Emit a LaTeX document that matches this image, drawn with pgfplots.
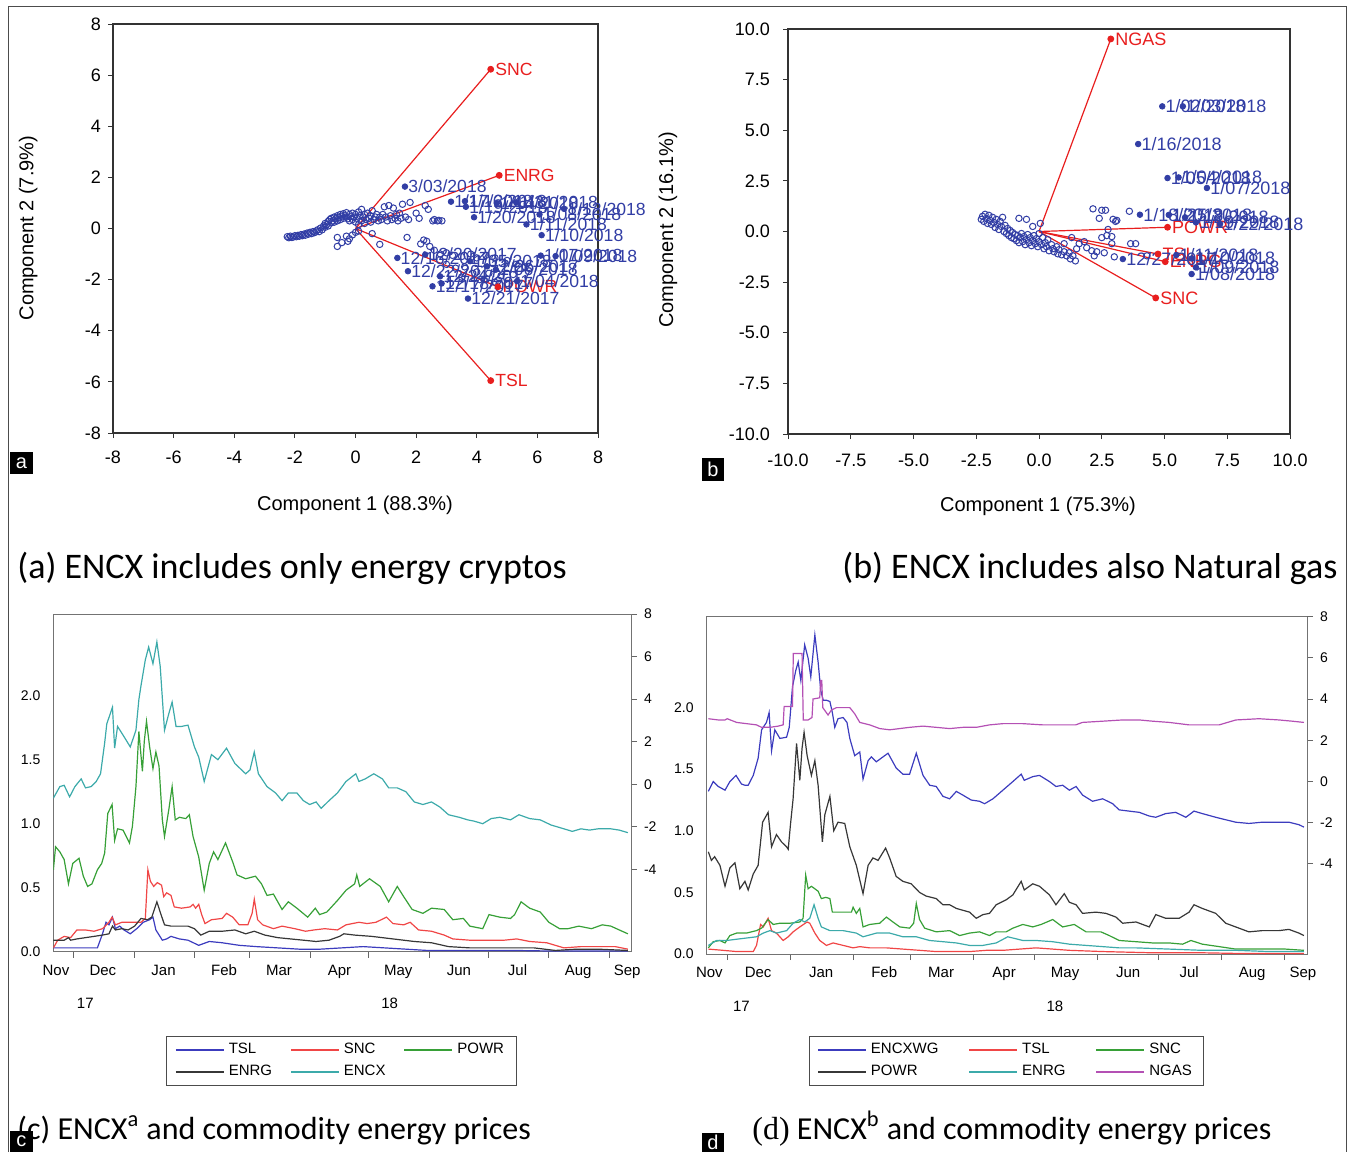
\documentclass[border=0pt]{standalone}
\usepackage{pgfplots}
\pgfplotsset{compat=1.18}
\usepackage{fontspec}
\setmainfont{Liberation Sans}
\newfontfamily\capfont{Carlito}
\newfontfamily\capserif{Liberation Serif}

\definecolor{ptblue}{RGB}{50,62,165}
\definecolor{ptred}{RGB}{232,30,30}
\definecolor{cblue}{RGB}{60,60,190}
\definecolor{cred}{RGB}{240,70,70}
\definecolor{cgreen}{RGB}{55,160,55}
\definecolor{cblack}{RGB}{55,55,55}
\definecolor{cteal}{RGB}{60,170,170}
\definecolor{cmag}{RGB}{180,80,180}

\pgfplotsset{
  biplot/.style={
    scale only axis, clip=false,
    axis line style={black!80, line width=0.6pt},
    tick pos=left, tick align=outside, major tick length=2.5pt,
    tick style={black!80, line width=0.5pt},
    ticklabel style={font=\fontsize{9}{10}\selectfont},
    xticklabel style={yshift=-3pt},
    /pgf/number format/assume math mode=true,
    label style={font=\fontsize{10}{12}\selectfont},
  },
  tsplot/.style={
    scale only axis, clip mode=individual,
    xmin=-10.3, xmax=285,
    axis line style={black!55, line width=0.5pt},
    xtick={0,31,62,90,121,151,182,212,243,274}, xticklabels={},
    xtick pos=bottom, ytick pos=left, tick align=outside,
    major tick length=3pt, tick style={black!60, line width=0.5pt},
    ytick style={draw=none},
    ytick={0,0.5,1,1.5,2},
    yticklabel style={/pgf/number format/fixed, /pgf/number format/fixed zerofill, /pgf/number format/precision=1},
    ticklabel style={font=\fontsize{7}{8}\selectfont},
    /pgf/number format/assume math mode=true,
    extra x ticks={-9,15,46,77,105,136,166,197,227,258,283},
    extra x tick labels={Nov,Dec,Jan,Feb,Mar,Apr,May,Jun,Jul,Aug,Sep},
    extra x tick style={major tick length=0pt, tick label style={font=\fontsize{7.5}{8}\selectfont, yshift=-3pt}},
    legend image code/.code={\draw[#1, line width=0.9pt] (0pt,0pt) -- (24pt,0pt);},
    legend cell align=left,
    every axis plot/.append style={line width=0.6pt},
  },
  rightax/.style={
    scale only axis, xmin=-10.3, xmax=285,
    axis x line=none, axis y line*=right,
    axis line style={black!55, line width=0.5pt},
    tick align=outside, major tick length=3pt, tick style={black!60, line width=0.5pt},
    ytick={-4,-2,0,2,4,6,8},
    ticklabel style={font=\fontsize{7}{8}\selectfont},
    /pgf/number format/assume math mode=true,
  },
}

\begin{document}
\begin{tikzpicture}
\path (0pt,0pt) rectangle (673.5pt,-576pt);
\draw[black!70, line width=0.5pt] (4.3pt,-576pt) -- (4.3pt,-3pt) -- (673pt,-3pt) -- (673pt,-576pt);

% ---------------- (a) biplot, energy cryptos ----------------
\begin{axis}[biplot,
  at={(56.5pt,-216.5pt)}, anchor=south west,
  width=242.5pt, height=204.5pt,
  xmin=-8, xmax=8, ymin=-8, ymax=8,
  xtick={-8,-6,...,8}, ytick={-8,-6,...,8},
  xlabel={Component 1 (88.3\%)}, ylabel={Component 2 (7.9\%)},
  xlabel style={at={(axis description cs:0.499,-0.176)}, anchor=center},
  ylabel style={at={(axis description cs:-0.175,0.501)}, anchor=center},
]
\addplot[only marks, mark=o, mark size=1.6pt, ptblue, mark options={line width=0.5pt}] table {
x y
-2.25 -0.32
-2.2 -0.36
-2.15 -0.30
-2.1 -0.35
-2.05 -0.33
-2.0 -0.28
-1.95 -0.32
-1.9 -0.27
-1.85 -0.30
-1.8 -0.24
-1.75 -0.28
-1.7 -0.22
-1.65 -0.26
-1.6 -0.18
-1.55 -0.22
-1.5 -0.15
-1.45 -0.20
-1.4 -0.12
-1.35 -0.16
-1.3 -0.10
-1.25 -0.05
-1.2 -0.12
-1.15 0.02
-1.1 -0.05
-1.05 0.10
-1.0 0.05
-1.0 0.20
-0.95 0.15
-0.9 0.28
-0.9 0.10
-0.85 0.35
-0.8 0.22
-0.8 0.40
-0.75 0.30
-0.7 0.45
-0.7 0.25
-0.65 0.38
-0.6 0.50
-0.6 0.30
-0.55 0.42
-0.5 0.55
-0.5 0.35
-0.45 0.48
-0.4 0.40
-0.4 0.58
-0.35 0.50
-0.3 0.45
-0.3 0.62
-0.25 0.38
-0.2 0.55
-0.2 0.30
-0.15 0.48
-0.1 0.60
-0.1 0.35
-0.05 0.45
0.0 0.55
0.0 0.25
0.05 0.40
0.1 0.65
0.1 0.15
0.15 0.50
0.2 0.30
0.2 0.75
0.25 0.45
0.3 0.55
0.3 0.20
0.35 0.35
0.4 0.60
0.45 0.40
0.5 0.25
0.5 0.50
0.55 0.70
0.6 0.35
0.65 0.45
0.7 0.55
0.75 0.30
0.8 0.45
0.85 0.35
0.9 0.55
0.95 0.85
1.0 0.45
1.05 0.30
1.1 0.90
1.15 0.50
1.2 0.35
1.25 0.80
1.3 0.40
1.35 0.55
1.4 0.30
1.45 0.60
1.5 0.40
1.55 0.95
1.65 0.45
1.75 0.35
1.8 1.02
2.0 0.60
2.1 0.40
2.3 0.90
2.4 0.75
2.55 0.30
2.6 0.35
2.7 0.30
2.75 0.32
2.85 0.30
-0.6 -0.35
-0.6 -0.70
-0.45 -0.55
-0.3 -0.30
-0.25 -0.50
-0.2 -0.40
-0.1 -0.25
0.0 -0.15
0.1 -0.10
0.55 -0.20
0.8 -0.62
1.7 -0.35
2.15 -0.60
2.25 -0.45
2.35 -0.50
2.45 -0.70
2.6 -0.85
2.8 -1.00
3.0 -0.95
3.2 -1.05
3.5 -1.10
3.8 -1.00
4.0 -1.15
4.3 -1.05
4.6 -1.15
5.0 -1.25
5.3 -1.40
5.6 -1.50
3.0 -1.40
3.3 -1.55
3.6 -1.50
4.0 -1.70
4.4 -1.75
4.8 -1.85
5.2 -1.80
3.5 -1.90
4.1 -2.00
4.6 -2.10
5.0 -2.15
};
\addplot[only marks, mark=*, mark size=1.4pt, ptblue,
  nodes near coords, point meta=explicit symbolic,
  nodes near coords style={anchor=west, inner sep=1.5pt, font=\fontsize{8.8}{9}\selectfont, text=ptblue}]
  table[x=x, y=y, meta=lab] {
x y lab
1.63 1.64 3/03/2018
3.15 1.05 1/17/2018
3.61 1.07 1/16/2018
3.64 0.85 1/19/2018
3.91 0.44 1/20/2018
4.66 0.99 1/14/2018
5.30 1.02 1/31/2018
5.64 0.16 1/11/2018
6.07 0.55 1/08/2018
6.14 -0.26 1/10/2018
6.88 0.77 1/12/2018
1.38 -1.15 12/16/2017
2.30 -1.02 12/20/2017
1.73 -1.67 12/22/2017
2.79 -1.87 12/24/2017
2.54 -2.26 12/17/2017
2.84 -2.15 12/18/2017
3.71 -2.74 12/21/2017
3.78 -1.28 1/05/2018
4.34 -1.48 12/26/2017
4.63 -1.61 1/06/2018
5.33 -2.06 1/04/2018
6.11 -1.06 1/07/2018
6.60 -1.08 1/09/2018
};
\addplot[ptred, line width=0.6pt, mark=*, mark size=1.4pt, mark indices={2}] coordinates {(0,0) (4.46,6.23)}
  node[pos=1, anchor=west, inner sep=2pt, text=ptred, font=\fontsize{8.8}{9}\selectfont] {SNC};
\addplot[ptred, line width=0.6pt, mark=*, mark size=1.4pt, mark indices={2}] coordinates {(0,0) (4.74,2.08)}
  node[pos=1, anchor=west, inner sep=2pt, text=ptred, font=\fontsize{8.8}{9}\selectfont] {ENRG};
\addplot[ptred, line width=0.6pt, mark=*, mark size=1.4pt, mark indices={2}] coordinates {(0,0) (4.70,-2.28)}
  node[pos=1, anchor=west, inner sep=2pt, text=ptred, font=\fontsize{8.8}{9}\selectfont] {POWR};
\addplot[ptred, line width=0.6pt, mark=*, mark size=1.4pt, mark indices={2}] coordinates {(0,0) (4.46,-5.95)}
  node[pos=1, anchor=west, inner sep=2pt, text=ptred, font=\fontsize{8.8}{9}\selectfont] {TSL};
\end{axis}

% ---------------- (b) biplot, with natural gas ----------------
\begin{axis}[biplot,
  at={(394pt,-217pt)}, anchor=south west,
  width=251pt, height=202.5pt,
  xmin=-10, xmax=10, ymin=-10, ymax=10,
  xtick={-10,-7.5,...,10}, ytick={-10,-7.5,...,10},
  ticklabel style={/pgf/number format/fixed, /pgf/number format/fixed zerofill, /pgf/number format/precision=1},
  xticklabel style={yshift=-1pt},
  yticklabel style={xshift=-3pt},
  xlabel={Component 1 (75.3\%)}, ylabel={Component 2 (16.1\%)},
  xlabel style={at={(axis description cs:0.498,-0.178)}, anchor=center},
  ylabel style={at={(axis description cs:-0.239,0.504)}, anchor=center},
]
\addplot[only marks, mark=o, mark size=1.6pt, ptblue, mark options={line width=0.5pt}] table {
x y
-2.3 0.60
-2.25 0.75
-2.2 0.50
-2.15 0.85
-2.1 0.65
-2.05 0.40
-2.0 0.80
-1.95 0.55
-1.9 0.35
-1.85 0.70
-1.8 0.45
-1.75 0.20
-1.7 0.60
-1.65 0.35
-1.6 0.10
-1.55 0.50
-1.5 0.25
-1.45 0.70
-1.4 0.00
-1.35 0.30
-1.3 -0.10
-1.25 0.15
-1.2 -0.20
-1.15 0.05
-1.1 -0.30
-1.05 -0.05
-1.0 -0.35
-0.95 -0.15
-0.9 -0.45
-0.85 -0.20
-0.8 -0.55
-0.8 0.65
-0.75 -0.30
-0.7 -0.10
-0.65 -0.50
-0.6 -0.25
-0.55 -0.65
-0.5 0.60
-0.5 -0.40
-0.45 -0.15
-0.4 -0.55
-0.35 -0.30
-0.3 -0.70
-0.25 0.25
-0.25 -0.45
-0.2 -0.20
-0.15 -0.60
-0.1 -0.35
-0.05 -0.75
0.0 -0.10
0.0 -0.50
0.05 0.40
0.1 -0.65
0.15 -0.30
0.2 -0.85
0.25 -0.55
0.3 -0.75
0.35 -0.40
0.4 -0.95
0.5 -0.65
0.55 -0.85
0.6 -1.00
0.7 -0.75
0.75 -1.10
0.8 -0.90
0.9 -1.15
1.0 -0.60
1.0 -1.00
1.1 -1.20
1.2 -1.05
1.25 -1.35
1.3 -0.30
1.35 -1.20
1.45 -1.45
1.5 -0.85
1.6 -0.60
1.8 -0.50
1.9 -0.80
2.1 -0.95
2.2 -1.20
2.3 -1.00
2.6 -1.05
2.7 -0.20
2.9 -0.60
3.0 -1.25
2.15 1.12
2.5 1.05
2.65 1.05
2.4 0.65
2.95 0.60
3.05 0.50
3.1 0.55
2.75 0.10
2.5 -0.30
2.9 -0.25
3.6 1.00
3.65 -0.60
3.85 -0.60
4.3 -1.20
};
\addplot[only marks, mark=*, mark size=1.4pt, ptblue,
  nodes near coords, point meta=explicit symbolic,
  nodes near coords style={anchor=west, inner sep=1.5pt, font=\fontsize{9}{10}\selectfont, text=ptblue}]
  table[x=x, y=y, meta=lab] {
x y lab
4.91 6.18 1/02/2018
5.73 6.18 1/03/2018
3.95 4.32 1/16/2018
5.12 2.64 1/05/2018
5.56 2.67 1/04/2018
6.69 2.15 1/07/2018
4.02 0.83 1/18/2018
5.17 0.82 1/25/2018
5.82 0.70 1/12/2018
6.25 0.45 1/19/2018
7.21 0.37 1/22/2018
3.34 -1.36 12/27/2017
5.47 -1.16 1/11/2018
6.08 -1.33 1/10/2018
6.25 -1.77 1/09/2018
6.08 -2.10 1/08/2018
};
\addplot[ptred, line width=0.6pt, mark=*, mark size=1.4pt, mark indices={2}] coordinates {(0,0) (2.86,9.51)}
  node[pos=1, anchor=west, inner sep=2pt, text=ptred, font=\fontsize{9}{10}\selectfont] {NGAS};
\addplot[ptred, line width=0.6pt, mark=*, mark size=1.4pt, mark indices={2}] coordinates {(0,0) (5.12,0.21)}
  node[pos=1, anchor=west, inner sep=2pt, text=ptred, font=\fontsize{9}{10}\selectfont] {POWR};
\addplot[ptred, line width=0.6pt, mark=*, mark size=1.4pt, mark indices={2}] coordinates {(0,0) (4.74,-1.11)}
  node[pos=1, anchor=west, inner sep=2pt, text=ptred, font=\fontsize{9}{10}\selectfont] {TSL};
\addplot[ptred, line width=0.6pt, mark=*, mark size=1.4pt, mark indices={2}] coordinates {(0,0) (5.03,-1.49)}
  node[pos=1, anchor=west, inner sep=2pt, text=ptred, font=\fontsize{9}{10}\selectfont] {ENRG};
\addplot[ptred, line width=0.6pt, mark=*, mark size=1.4pt, mark indices={2}] coordinates {(0,0) (4.65,-3.28)}
  node[pos=1, anchor=west, inner sep=2pt, text=ptred, font=\fontsize{9}{10}\selectfont] {SNC};
\end{axis}

% ---------------- (c) ENCX and commodity energy prices ----------------
\begin{axis}[tsplot,
  at={(26.7pt,-475.85pt)}, anchor=south west,
  width=288.8pt, height=168.85pt,
  ymin=0, ymax=2.638,
  legend style={at={(axis description cs:0.4988,-0.2496)}, anchor=north,
    legend columns=3, draw=black!70, line width=0.5pt,
    font=\fontsize{7.5}{9}\selectfont, inner xsep=4pt, inner ysep=1.5pt,
    /tikz/every even column/.append style={column sep=7pt}},
]
\addplot[draw=cblue] table {
-10.3 0.03
-2.6 0.03
6.1 0.03
12.2 0.03
14.8 0.14
16.6 0.23
18.1 0.21
19.9 0.27
21.4 0.18
23.6 0.20
25.8 0.17
29.0 0.14
32.3 0.18
35.6 0.23
38.9 0.25
40.6 0.27
42.1 0.17
45.4 0.09
47.6 0.10
49.8 0.12
54.1 0.10
58.5 0.09
64.0 0.05
69.4 0.08
76.0 0.07
84.7 0.05
93.4 0.04
104.4 0.03
115.3 0.02
126.2 0.02
137.1 0.03
148.0 0.04
159.0 0.03
169.9 0.02
180.8 0.01
202.6 0.01
224.5 0.01
246.3 0.005
283.4 0.005
};
\addlegendentry{TSL}
\addplot[draw=cred] table {
-10.3 0.03
-8.1 0.09
-4.8 0.12
-1.5 0.11
1.7 0.17
6.1 0.17
10.5 0.16
14.8 0.18
18.1 0.23
19.7 0.27
21.4 0.21
24.7 0.23
29.0 0.23
34.5 0.23
36.7 0.26
38.0 0.64
39.3 0.55
41.0 0.51
42.8 0.54
45.0 0.52
46.1 0.43
47.6 0.46
49.8 0.44
51.5 0.35
55.2 0.34
59.6 0.35
61.1 0.37
62.4 0.34
64.0 0.37
65.5 0.29
67.2 0.22
70.5 0.25
76.0 0.26
78.2 0.30
81.4 0.27
84.7 0.21
89.1 0.21
91.3 0.30
92.4 0.41
94.1 0.25
96.7 0.21
102.2 0.18
106.6 0.20
113.1 0.18
118.6 0.16
122.9 0.17
128.4 0.18
134.9 0.17
139.3 0.21
145.9 0.23
150.2 0.22
154.6 0.23
160.0 0.27
163.3 0.22
168.8 0.21
172.1 0.23
176.4 0.17
183.0 0.16
189.5 0.13
193.9 0.10
202.6 0.09
211.4 0.09
220.1 0.09
226.6 0.10
233.2 0.08
241.9 0.07
250.7 0.03
259.4 0.04
268.1 0.04
276.9 0.04
283.4 0.02
};
\addlegendentry{SNC}
\addplot[draw=cgreen] table {
-10.3 0.64
-9.2 0.82
-7.0 0.78
-4.8 0.72
-2.6 0.53
-0.4 0.69
2.8 0.73
5.0 0.59
7.2 0.51
9.4 0.53
12.2 0.64
14.4 0.69
15.9 0.77
17.5 1.08
19.7 1.15
21.0 0.87
22.5 0.96
25.3 0.95
28.6 0.85
30.1 0.98
31.9 1.29
33.4 1.72
35.2 1.41
36.2 1.65
37.3 1.80
38.9 1.60
40.6 1.43
42.1 1.56
43.7 1.45
45.4 1.03
46.5 0.90
48.7 1.11
50.4 1.29
52.0 1.03
54.1 1.05
57.4 1.04
59.2 1.07
61.1 0.90
64.0 0.74
66.8 0.48
69.4 0.69
71.6 0.78
73.8 0.72
77.7 0.85
81.4 0.70
83.6 0.60
88.0 0.57
93.0 0.59
96.1 0.53
98.9 0.44
102.2 0.45
106.6 0.33
109.8 0.39
114.2 0.34
119.7 0.27
123.6 0.34
125.8 0.29
129.5 0.31
134.9 0.40
139.3 0.48
143.7 0.53
144.8 0.60
146.3 0.51
151.3 0.57
156.8 0.51
161.1 0.39
165.5 0.51
168.8 0.43
173.1 0.33
178.6 0.30
183.0 0.34
189.5 0.33
193.9 0.25
199.3 0.26
202.6 0.20
209.2 0.18
212.4 0.29
217.9 0.27
223.4 0.26
225.5 0.29
228.8 0.39
233.2 0.34
238.6 0.31
243.0 0.23
248.5 0.18
252.8 0.18
258.3 0.20
264.8 0.18
270.3 0.21
274.7 0.20
279.0 0.17
283.4 0.14
};
\addlegendentry{POWR}
\addplot[draw=cblack] table {
-10.3 0.09
-4.8 0.09
-2.6 0.11
-1.5 0.09
1.7 0.10
6.1 0.11
10.5 0.12
14.8 0.13
18.1 0.14
19.9 0.20
21.4 0.17
24.7 0.18
27.9 0.17
31.2 0.20
34.5 0.26
37.8 0.25
40.0 0.27
42.6 0.39
44.3 0.31
46.5 0.21
49.8 0.20
54.1 0.20
58.5 0.20
61.8 0.18
65.1 0.13
69.4 0.16
76.0 0.16
82.5 0.17
88.0 0.14
92.4 0.16
97.8 0.13
104.4 0.11
110.9 0.10
117.5 0.09
124.0 0.08
130.6 0.09
136.0 0.12
138.2 0.14
143.7 0.13
152.4 0.12
163.3 0.10
174.2 0.08
183.0 0.07
191.7 0.04
202.6 0.03
213.5 0.03
224.5 0.03
235.4 0.03
246.3 0.01
257.2 0.02
268.1 0.02
283.4 0.01
};
\addlegendentry{ENRG}
\addplot[draw=cteal] table {
-10.3 1.20
-7.0 1.29
-4.8 1.30
-2.0 1.21
0.7 1.29
3.9 1.35
6.1 1.28
9.0 1.29
11.6 1.33
13.8 1.39
15.9 1.63
17.0 1.78
19.9 1.91
21.0 1.59
22.5 1.76
25.8 1.68
29.0 1.60
31.9 1.73
33.4 1.97
34.5 2.08
36.7 2.28
38.4 2.38
40.6 2.25
42.6 2.42
44.3 2.23
46.5 1.73
48.7 1.86
50.4 1.95
52.4 1.76
55.2 1.76
58.5 1.77
61.8 1.60
64.0 1.52
66.8 1.33
70.5 1.54
73.8 1.50
78.2 1.59
82.5 1.47
88.0 1.39
90.2 1.42
92.4 1.56
94.5 1.39
98.9 1.29
103.3 1.24
106.6 1.18
109.8 1.24
114.2 1.24
117.5 1.18
120.7 1.15
124.0 1.17
126.6 1.12
130.6 1.18
134.9 1.24
139.3 1.33
144.3 1.39
145.9 1.33
149.1 1.35
153.5 1.39
157.9 1.35
161.1 1.28
165.5 1.28
169.9 1.25
174.2 1.17
178.6 1.15
183.0 1.17
187.3 1.13
191.7 1.07
197.2 1.05
201.5 1.03
204.8 1.02
209.2 1.00
213.5 1.04
217.9 1.05
223.4 1.03
227.7 1.07
233.2 1.04
238.6 1.03
244.1 0.99
250.7 0.96
255.0 0.94
259.4 0.96
263.8 0.95
268.1 0.96
274.7 0.96
279.0 0.95
283.4 0.93
};
\addlegendentry{ENCX}
\node[font=\fontsize{7.5}{8}\selectfont] at (axis cs:6,0) [yshift=-26pt] {17};
\node[font=\fontsize{7.5}{8}\selectfont] at (axis cs:161.6,0) [yshift=-26pt] {18};
\end{axis}
\begin{axis}[rightax,
  at={(26.7pt,-475.85pt)}, anchor=south west,
  width=288.8pt, height=168.85pt,
  ymin=-7.87, ymax=8,
]
\end{axis}

% ---------------- (d) ENCX with gas and commodity energy prices ----------------
\begin{axis}[tsplot,
  at={(353.35pt,-477pt)}, anchor=south west,
  width=300.15pt, height=168.65pt,
  ymin=0, ymax=2.738,
  legend style={at={(axis description cs:0.4994,-0.243)}, anchor=north,
    legend columns=3, draw=black!70, line width=0.5pt,
    font=\fontsize{7.5}{9}\selectfont, inner xsep=4pt, inner ysep=1.5pt,
    /tikz/every even column/.append style={column sep=13pt}},
]
\addplot[draw=cblue] table {
-9.5 1.32
-7.1 1.40
-4.6 1.36
-1.3 1.33
1.1 1.40
4.1 1.45
6.8 1.38
8.5 1.37
10.1 1.37
12.6 1.45
15.0 1.59
16.7 1.82
19.1 1.88
20.4 1.96
21.6 1.65
23.2 1.82
25.7 1.75
29.0 1.76
30.3 1.84
31.9 2.17
33.5 2.30
34.7 2.37
36.0 2.22
37.9 2.51
39.6 2.40
40.9 2.25
42.9 2.59
44.5 2.37
45.8 2.14
47.0 2.06
48.6 2.06
50.3 2.05
51.5 1.96
52.7 1.84
54.3 1.91
56.8 1.92
58.7 1.88
60.1 1.75
62.5 1.61
65.0 1.64
66.6 1.42
69.1 1.57
70.7 1.60
73.1 1.56
76.4 1.60
78.9 1.63
82.9 1.51
86.2 1.46
89.5 1.46
92.8 1.63
96.1 1.45
99.4 1.37
102.6 1.36
105.9 1.28
109.2 1.26
112.5 1.32
115.7 1.29
119.8 1.25
123.9 1.24
126.4 1.22
130.5 1.26
135.4 1.33
140.3 1.40
144.4 1.46
145.9 1.41
150.1 1.44
153.4 1.45
158.3 1.40
161.5 1.36
164.8 1.37
168.1 1.33
171.4 1.36
174.6 1.29
179.5 1.24
184.5 1.26
189.4 1.22
192.6 1.17
197.5 1.16
202.5 1.15
207.4 1.12
210.6 1.11
215.5 1.14
220.4 1.15
225.4 1.11
229.4 1.16
233.5 1.14
240.1 1.11
245.0 1.09
249.9 1.07
256.4 1.06
263.0 1.07
269.5 1.07
276.1 1.07
281.0 1.05
283.5 1.03
};
\addlegendentry{ENCXWG}
\addplot[draw=cred] table {
-9.5 0.04
-2.3 0.03
4.4 0.02
12.6 0.02
14.2 0.07
16.2 0.24
17.5 0.22
19.9 0.29
21.6 0.19
24.0 0.17
27.3 0.11
29.8 0.14
32.2 0.18
35.5 0.22
39.1 0.26
40.4 0.25
42.9 0.17
45.3 0.11
48.6 0.07
51.9 0.09
56.8 0.07
61.7 0.05
65.0 0.06
69.9 0.05
78.1 0.05
86.2 0.04
94.4 0.03
102.6 0.02
110.8 0.02
119.0 0.02
127.2 0.03
135.4 0.03
151.7 0.05
168.1 0.03
184.5 0.02
209.0 0.01
233.5 0.01
250.0 0.005
283.5 0.005
};
\addlegendentry{TSL}
\addplot[draw=cgreen] table {
-9.5 0.05
-7.1 0.10
-3.8 0.11
-1.3 0.09
1.1 0.15
4.4 0.17
9.3 0.17
14.2 0.19
16.7 0.21
19.9 0.28
22.4 0.24
25.7 0.25
30.6 0.25
35.5 0.26
37.1 0.29
38.4 0.64
39.6 0.53
41.2 0.55
44.5 0.51
46.1 0.45
48.3 0.46
50.3 0.45
51.5 0.34
56.8 0.34
60.9 0.34
61.7 0.38
63.3 0.33
65.0 0.37
66.6 0.22
69.9 0.24
74.8 0.25
78.1 0.30
81.3 0.26
84.7 0.22
89.5 0.21
91.5 0.25
92.8 0.41
94.4 0.28
96.9 0.21
102.6 0.18
109.2 0.19
114.1 0.15
119.0 0.17
123.9 0.18
128.8 0.15
132.1 0.18
137.0 0.18
140.3 0.21
145.2 0.24
150.1 0.22
154.2 0.24
159.9 0.28
164.8 0.22
170.5 0.24
176.3 0.18
183.6 0.18
187.7 0.15
192.6 0.11
200.9 0.10
209.0 0.09
217.2 0.09
223.8 0.08
227.9 0.11
233.5 0.08
241.8 0.06
250.0 0.04
263.0 0.04
274.5 0.04
283.5 0.03
};
\addlegendentry{SNC}
\addplot[draw=cblack] table {
-9.5 0.83
-8.0 0.76
-6.4 0.79
-3.8 0.72
-1.3 0.55
1.1 0.70
3.6 0.74
6.0 0.53
8.5 0.59
10.1 0.52
12.6 0.65
15.0 0.72
17.2 1.07
19.9 1.15
21.6 0.87
24.0 0.97
26.5 0.91
29.0 0.87
29.8 0.85
30.9 1.05
32.2 1.26
33.9 1.71
35.5 1.41
36.6 1.67
37.6 1.80
39.1 1.61
41.2 1.45
42.9 1.57
44.5 1.37
46.6 0.91
47.8 1.13
50.3 1.28
52.2 1.00
54.3 1.07
57.6 1.06
60.1 0.87
63.3 0.72
66.6 0.49
69.1 0.72
71.5 0.78
74.0 0.76
77.7 0.86
79.7 0.78
82.9 0.63
86.2 0.59
90.3 0.57
94.4 0.50
97.7 0.47
102.6 0.45
105.9 0.40
109.2 0.40
112.5 0.37
119.0 0.34
122.3 0.29
125.6 0.32
128.8 0.33
132.1 0.40
137.0 0.44
140.3 0.48
144.4 0.59
145.9 0.52
150.1 0.57
153.4 0.55
158.3 0.48
161.5 0.40
165.6 0.49
168.1 0.42
171.4 0.40
174.6 0.33
181.2 0.34
186.1 0.33
191.0 0.30
194.3 0.25
200.9 0.26
207.4 0.22
210.6 0.32
215.5 0.29
222.1 0.29
227.0 0.34
229.4 0.40
233.5 0.37
240.1 0.33
245.0 0.25
249.9 0.22
256.4 0.18
263.0 0.19
271.2 0.19
276.1 0.20
281.0 0.17
283.5 0.15
};
\addlegendentry{POWR}
\addplot[draw=cteal] table {
-9.5 0.07
-5.4 0.11
-0.5 0.11
4.4 0.12
9.3 0.13
14.2 0.14
17.5 0.17
20.8 0.19
24.0 0.17
29.0 0.19
32.2 0.25
35.5 0.28
37.9 0.26
40.4 0.29
42.5 0.40
44.5 0.29
46.1 0.22
50.3 0.19
56.8 0.19
63.3 0.17
66.6 0.14
73.2 0.17
79.7 0.17
86.2 0.14
92.8 0.14
99.3 0.11
105.9 0.10
112.5 0.09
119.0 0.07
125.6 0.07
132.1 0.09
137.8 0.14
145.2 0.11
151.7 0.11
159.9 0.10
168.1 0.08
176.3 0.07
184.5 0.06
192.6 0.05
200.9 0.05
217.2 0.04
233.5 0.03
250.0 0.03
266.4 0.02
283.5 0.02
};
\addlegendentry{ENRG}
\addplot[draw=cmag] table {
-9.5 1.91
-4.6 1.90
-1.3 1.90
-0.2 1.91
4.4 1.88
9.3 1.87
14.2 1.86
16.7 1.84
20.8 1.84
24.9 1.85
27.3 1.86
27.8 2.01
31.9 2.01
32.3 2.44
36.6 2.44
37.2 1.90
39.6 1.90
41.5 1.92
42.0 2.07
45.3 2.08
45.8 2.22
46.3 2.22
46.8 2.00
49.4 1.94
51.0 1.98
53.5 2.00
60.1 2.00
62.5 1.95
65.0 1.88
69.9 1.86
74.8 1.83
79.7 1.82
84.6 1.83
89.5 1.84
96.1 1.85
102.6 1.84
109.2 1.83
115.7 1.84
122.3 1.84
128.8 1.86
135.4 1.87
145.2 1.87
155.0 1.86
164.8 1.86
171.2 1.86
174.5 1.88
184.5 1.89
194.3 1.90
202.5 1.90
209.0 1.89
217.2 1.88
227.0 1.86
233.5 1.86
241.8 1.86
250.0 1.90
261.4 1.91
271.2 1.90
277.7 1.89
283.5 1.88
};
\addlegendentry{NGAS}
\node[font=\fontsize{7.5}{8}\selectfont] at (axis cs:6.8,0) [yshift=-26pt] {17};
\node[font=\fontsize{7.5}{8}\selectfont] at (axis cs:161,0) [yshift=-26pt] {18};
\end{axis}
\begin{axis}[rightax,
  at={(353.35pt,-477pt)}, anchor=south west,
  width=300.15pt, height=168.65pt,
  ymin=-8.4, ymax=8,
]
\end{axis}

% ---------------- captions and panel letters ----------------
\node[anchor=base west, inner sep=0pt, font=\capfont\fontsize{18}{20}\selectfont] at (8.5pt,-289pt) {(a) ENCX includes only energy cryptos};
\node[anchor=base east, inner sep=0pt, font=\capfont\fontsize{18}{20}\selectfont] at (669pt,-289pt) {(b) ENCX includes also Natural gas};
\node[anchor=base west, inner sep=0pt, font=\capfont\fontsize{16}{18}\selectfont] at (8.5pt,-569.5pt) {(c) ENCX\textsuperscript{a} and commodity energy prices};
\node[anchor=base west, inner sep=0pt, font=\capfont\fontsize{16}{18}\selectfont] at (376pt,-569.5pt) {{\capserif(d)} ENCX\textsuperscript{b} and commodity energy prices};
\foreach \lab/\xa/\ya/\xb/\yb in {a/5/-226/16.5/-237, b/351/-229/362/-240.5, c/5/-565.5/16.5/-576, d/351/-566.5/362/-576}{
  \fill[black] (\xa pt,\ya pt) rectangle (\xb pt,\yb pt);
  \node[text=white, font=\fontsize{10}{10}\selectfont, inner sep=0pt] at ({(\xa+\xb)/2*1pt},{(\ya+\yb)/2*1pt}) {\lab};
}
\end{tikzpicture}
\end{document}
